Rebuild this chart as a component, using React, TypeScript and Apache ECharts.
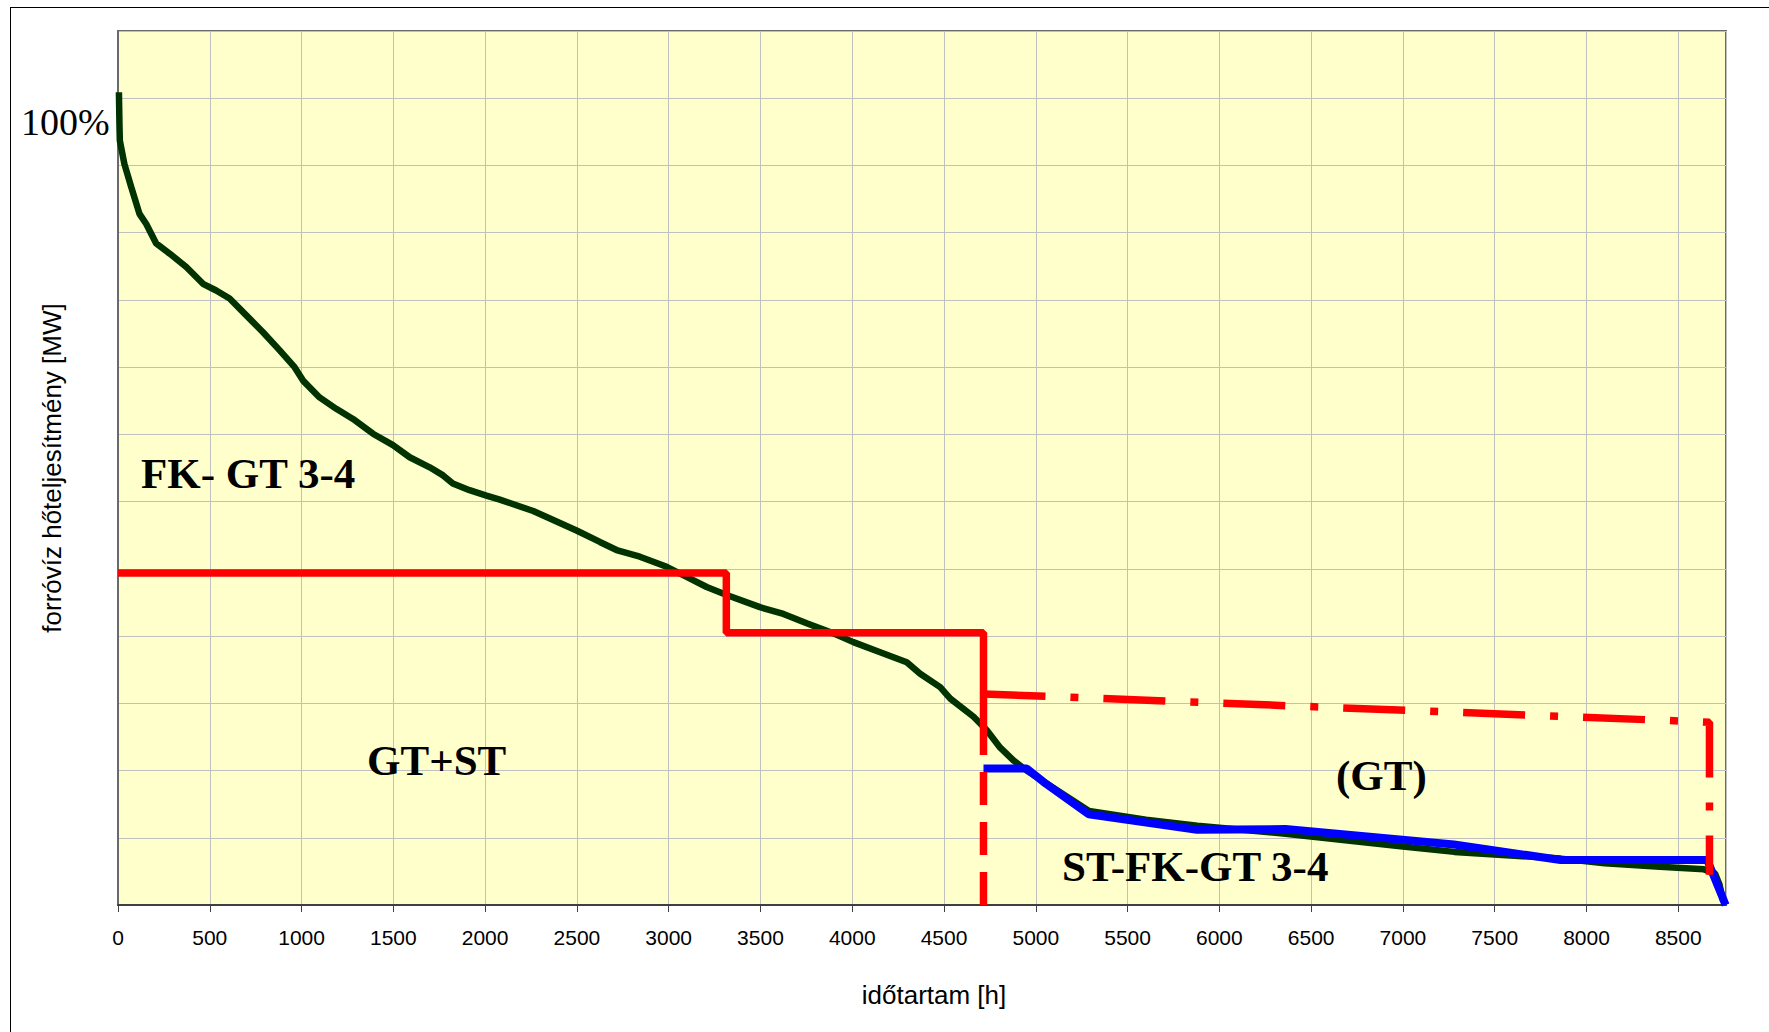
import React, { useEffect, useRef } from "react";
import * as echarts from "echarts";

// Load-duration curve (green), hours vs. heat load (grid divisions)
const loadHours = [5, 8, 10, 35, 72, 117, 154, 208, 281, 372, 463, 535, 608, 699, 790, 881, 962, 1008, 1098, 1189, 1280, 1389, 1498, 1589, 1698, 1771, 1824, 1915, 2007, 2080, 2262, 2353, 2498, 2625, 2716, 2843, 2989, 3098, 3207, 3316, 3497, 3625, 3752, 3897, 4006, 4152, 4297, 4370, 4479, 4534, 4661, 4733, 4806, 4878, 4950, 5040, 5290, 5600, 5880, 6360, 7000, 7280, 7860, 8100, 8400, 8640, 8700, 8725, 8745];
const loadValues = [12.09, 11.6, 11.37, 11.02, 10.68, 10.28, 10.13, 9.84, 9.69, 9.49, 9.24, 9.14, 9.02, 8.77, 8.52, 8.25, 8.0, 7.8, 7.55, 7.38, 7.23, 7.01, 6.84, 6.66, 6.51, 6.39, 6.27, 6.17, 6.09, 6.03, 5.86, 5.75, 5.57, 5.4, 5.28, 5.18, 5.03, 4.88, 4.73, 4.61, 4.43, 4.33, 4.19, 4.04, 3.91, 3.76, 3.61, 3.44, 3.24, 3.07, 2.8, 2.6, 2.34, 2.15, 2.0, 1.84, 1.4, 1.27, 1.18, 1.06, 0.87, 0.79, 0.69, 0.62, 0.57, 0.53, 0.47, 0.3, 0.05];

// ST-FK-GT 3-4 (blue)
const stHours = [4715, 4951, 5042, 5288, 5878, 6360, 7278, 7859, 8658, 8758];
const stValues = [2.03, 2.03, 1.83, 1.35, 1.12, 1.13, 0.9, 0.67, 0.67, 0.0];

// GT+ST steps (red solid)
const stepHours = [0, 3314, 3314, 4715, 4715];
const stepValues = [4.94, 4.94, 4.05, 4.05, 2.23];

// Red dashed continuation
const dashHours = [4715, 4715];
const dashValues = [2.23, 0];

// (GT) boundary (red dash-dot)
const gtHours = [4715, 8670, 8670];
const gtValues = [3.14, 2.72, 0.45];

const xMin = 0;
const xMax = 8760;
const xInterval = 500;
const yMin = 0;
const yMax = 13;
const yInterval = 1;

const xTitle = "időtartam [h]";
const yTitle = "forróvíz hőteljesítmény [MW]";

const zip = (xs: number[], ys: number[]) => xs.map((x, i) => [x, ys[i]]);

const serifBold = (size: number) => `bold ${size}px "Liberation Serif", "Times New Roman", serif`;

function label(text: string, x: number, baseline: number, size: number, bold = true) {
  const font = bold ? serifBold(size) : `${size}px "Liberation Serif", "Times New Roman", serif`;
  return {
    type: "text",
    x,
    y: baseline - 0.3375 * size,
    silent: true,
    z: 100,
    style: {
      text,
      font,
      fill: "#000",
      align: "left",
      textAlign: "left",
      verticalAlign: "middle",
      textVerticalAlign: "middle",
    },
  };
}

export default function App() {
  const ref = useRef<HTMLDivElement>(null);

  useEffect(() => {
    if (!ref.current) return;
    const chart = echarts.init(ref.current, undefined, { renderer: "svg" });
    const option: any = {
      animation: false,
      backgroundColor: "#ffffff",
      grid: {
        left: 118,
        top: 31,
        width: 1608,
        height: 874,
        show: true,
        backgroundColor: "#FFFFCC",
        borderColor: "#6a6a6a",
        borderWidth: 2,
        containLabel: false,
      },
      xAxis: {
        type: "value",
        min: xMin,
        max: xMax,
        interval: xInterval,
        axisLine: { show: true, lineStyle: { color: "#404040", width: 2 } },
        axisTick: { show: true, length: 7, lineStyle: { color: "#404040", width: 1 } },
        axisLabel: {
          fontFamily: "Liberation Sans",
          fontSize: 21,
          color: "#000",
          margin: 22,
          showMaxLabel: false,
          formatter: (v: number) => String(v),
        },
        splitLine: { show: true, lineStyle: { color: "#C0C0C0", width: 1 } },
      },
      yAxis: {
        type: "value",
        min: yMin,
        max: yMax,
        interval: yInterval,
        name: yTitle,
        nameLocation: "middle",
        nameRotate: 90,
        nameGap: 53,
        nameTextStyle: { fontFamily: "Liberation Sans", fontSize: 26, color: "#000" },
        axisLine: { show: true, lineStyle: { color: "#6a6a6a", width: 2 } },
        axisTick: { show: false },
        axisLabel: { show: false },
        splitLine: { show: true, lineStyle: { color: "#C0C0C0", width: 1 } },
      },
      series: [
        {
          name: "load",
          type: "line",
          data: zip(loadHours, loadValues),
          showSymbol: false,
          symbol: "none",
          lineStyle: { color: "#003300", width: 6.5 },
          z: 2,
          silent: true,
        },
        {
          name: "ST-FK-GT 3-4",
          type: "line",
          data: zip(stHours, stValues),
          showSymbol: false,
          symbol: "none",
          lineStyle: { color: "#0000FF", width: 8 },
          z: 3,
          silent: true,
        },
        {
          name: "GT+ST",
          type: "line",
          data: zip(stepHours, stepValues),
          showSymbol: false,
          symbol: "none",
          lineStyle: { color: "#FF0000", width: 7.5 },
          z: 4,
          silent: true,
        },
        {
          name: "dashed",
          type: "line",
          data: zip(dashHours, dashValues),
          showSymbol: false,
          symbol: "none",
          lineStyle: { color: "#FF0000", width: 7.5, type: [33, 17], dashOffset: 33 },
          z: 4,
          silent: true,
        },
        {
          name: "(GT)",
          type: "line",
          data: zip(gtHours, gtValues),
          showSymbol: false,
          symbol: "none",
          lineStyle: { color: "#FF0000", width: 7.5, type: [62, 25, 8, 25] },
          z: 4,
          silent: true,
        },
      ],
      graphic: [
        { type: "line", silent: true, shape: { x1: 10.5, y1: 7, x2: 10.5, y2: 1032 }, style: { stroke: "#000", lineWidth: 1 } },
        { type: "line", silent: true, shape: { x1: 10, y1: 7.5, x2: 1769, y2: 7.5 }, style: { stroke: "#000", lineWidth: 1 } },
        {
          type: "text",
          x: 934,
          y: 995,
          silent: true,
          style: {
            text: xTitle,
            font: '26px "Liberation Sans", Arial, sans-serif',
            fill: "#000",
            align: "center",
            textAlign: "center",
            verticalAlign: "middle",
            textVerticalAlign: "middle",
          },
        },
        label("100%", 21, 135, 38, false),
        label("FK- GT 3-4", 141, 488, 43),
        label("GT+ST", 367, 775, 43),
        label("(GT)", 1336, 790, 43),
        label("ST-FK-GT 3-4", 1062, 881, 43),
      ],
    };
    chart.setOption(option);
    return () => chart.dispose();
  }, []);

  return (
    <div
      ref={ref}
      style={{ position: "absolute", left: 0, top: 0, width: 1769, height: 1032 }}
    />
  );
}
